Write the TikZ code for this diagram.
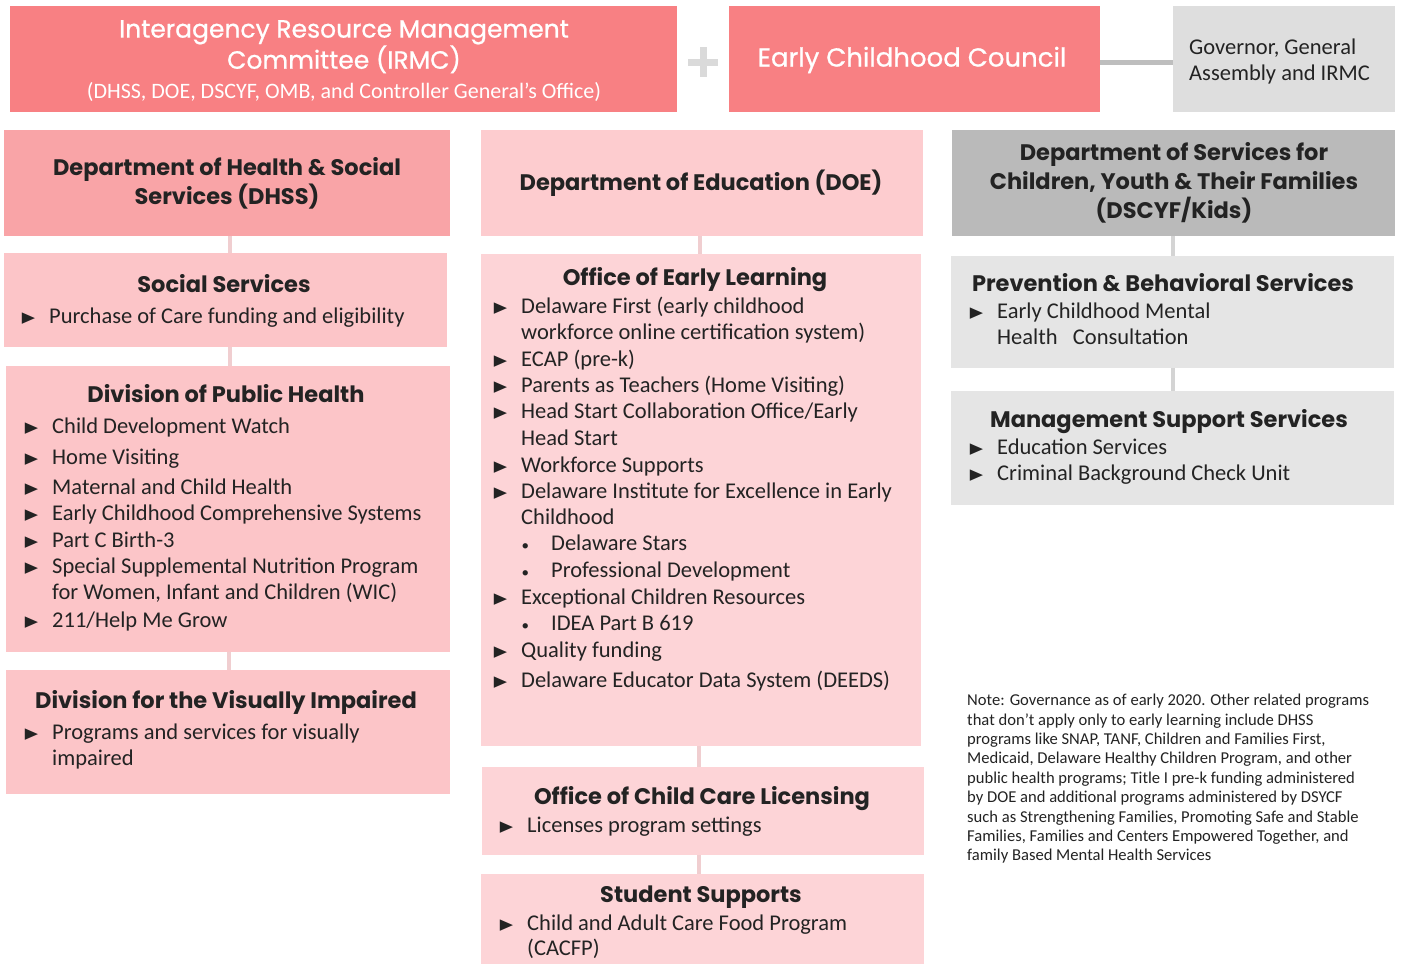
\documentclass[tikz,border=0pt]{standalone}
\usepackage{graphicx}
\usepackage{fontspec}
\setmainfont{Carlito}
\newfontfamily\headfont{Poppins}
\newfontfamily\titlefont[FakeBold=0.8]{Poppins}
\newfontfamily\symfont{DejaVu Sans}
\usetikzlibrary{calc}
\definecolor{coral}{RGB}{248,128,131}
\definecolor{pinkhead}{RGB}{249,164,167}
\definecolor{pinksub}{RGB}{252,197,200}
\definecolor{doehead}{RGB}{253,204,207}
\definecolor{doesub}{RGB}{253,212,215}
\definecolor{grayhead}{RGB}{186,186,186}
\definecolor{graysub}{RGB}{229,229,229}
\definecolor{graytop}{RGB}{222,222,222}
\definecolor{txt}{RGB}{35,35,35}
\definecolor{pinkconn}{RGB}{240,206,208}
\definecolor{grayconn}{RGB}{212,212,212}
\definecolor{linegray}{RGB}{190,190,190}
\definecolor{plusgray}{RGB}{218,218,218}
\newcommand{\tri}{\llap{\raisebox{0.5pt}{\scalebox{1.15}[1]{\symfont\fontsize{15}{15}\selectfont ▶}}\hspace{14pt}}}
\newcommand{\dotb}{\llap{{\fontsize{15}{15}\selectfont\textbullet}\hspace{22pt}}}
\begin{document}
\begin{tikzpicture}[x=1pt,y=-1pt,
  box/.style={draw=none,anchor=north west,inner sep=0pt,outer sep=0pt},
  head/.style={font=\headfont\bfseries\fontsize{22.5}{29}\selectfont,text=txt,align=center,inner sep=0pt},
  subhead/.style={font=\headfont\bfseries\fontsize{22.5}{26}\selectfont,text=txt,anchor=base,inner sep=0pt},
  item/.style={font=\fontsize{22.5}{26}\selectfont,text=txt,anchor=base west,inner sep=0pt},
  conn/.style={draw=pinkconn,line width=4pt},
  gconn/.style={draw=grayconn,line width=4pt}]
\useasboundingbox (0,0) rectangle (1401,964);
\fill[white] (0,0) rectangle (1401,964);
% top row
\node[box,fill=coral,minimum width=667,minimum height=106] (irmc) at (10,6) {};
\node[box,fill=coral,minimum width=371,minimum height=106] (ecc) at (729,6) {};
\node[box,fill=graytop,minimum width=222,minimum height=106] (gov) at (1173,6) {};
\node[align=center,text=white,inner sep=0pt,font=\fontsize{25}{30}\selectfont] (irmct) at (344,61) {\titlefont\fontsize{25}{30}\selectfont Interagency Resource Management\\ \titlefont\fontsize{25}{30}\selectfont Committee (IRMC)\\ \normalfont\fontsize{22}{30}\selectfont (DHSS, DOE, DSCYF, OMB, and Controller General's Office)};
\node[text=white,inner sep=0pt,font=\titlefont\fontsize{26}{30}\selectfont] (ecct) at (912,60) {Early Childhood Council};
\node[align=left,text=txt,inner sep=0pt,anchor=west,font=\fontsize{22.5}{26}\selectfont] (govt) at (1189,61) {Governor, General\\ Assembly and IRMC};
\coordinate (plus) at ($(irmc.east)!0.5!(ecc.west)$);
\draw[plusgray,line width=7pt] ($(plus)+(-15,3)$) -- ($(plus)+(15,3)$);
\draw[plusgray,line width=7pt] ($(plus)+(0,-12)$) -- ($(plus)+(0,18)$);
\draw[linegray,line width=5pt] ($(ecc.east)+(0,3)$) -- ($(gov.west)+(0,3)$);
% headers
\node[box,fill=pinkhead,minimum width=446,minimum height=106] (dhss) at (4,130) {};
\node[box,fill=doehead,minimum width=442,minimum height=106] (doe) at (481,130) {};
\node[box,fill=grayhead,minimum width=443,minimum height=106] (dscyf) at (952,130) {};
\node[head] (dhsst) at (227,183) {Department of Health \& Social\\ Services (DHSS)};
\node[head] (doet) at (701,183) {Department of Education (DOE)};
\node[head] (dscyft) at (1174,183) {Department of Services for\\ Children, Youth \& Their Families\\ (DSCYF/Kids)};
% DHSS column
\node[box,fill=pinksub,minimum width=443,minimum height=94] (soc) at (4,253) {};
\node[box,fill=pinksub,minimum width=444,minimum height=286] (dph) at (6,366) {};
\node[box,fill=pinksub,minimum width=444,minimum height=124] (dvi) at (6,670) {};
\draw[conn] (dhss.south -| 230,0) -- (soc.north -| 230,0);
\draw[conn] (soc.south -| 230,0) -- (dph.north -| 230,0);
\draw[conn] (dph.south -| 229,0) -- (dvi.north -| 229,0);
\node[subhead] (soch) at (224,292) {Social Services};
\node[item] (soc1) at (49,323) {\tri Purchase of Care funding and eligibility};
\node[subhead] (dphh) at (226,402) {Division of Public Health};
\node[item] (dph1) at (52,433) {\tri Child Development Watch};
\node[item] (dph2) at (52,464) {\tri Home Visiting};
\node[item] (dph3) at (52,494) {\tri Maternal and Child Health};
\node[item] (dph4) at (52,520) {\tri Early Childhood Comprehensive Systems};
\node[item] (dph5) at (52,547) {\tri Part C Birth-3};
\node[item] (dph6) at (52,573) {\tri Special Supplemental Nutrition Program};
\node[item] (dph6b) at (52,599) {for Women, Infant and Children (WIC)};
\node[item] (dph7) at (52,627) {\tri 211/Help Me Grow};
\node[subhead] (dvih) at (226,708) {Division for the Visually Impaired};
\node[item] (dvi1) at (52,739) {\tri Programs and services for visually};
\node[item] (dvi1b) at (52,765) {impaired};
% DOE column
\node[box,fill=doesub,minimum width=440,minimum height=492] (oel) at (481,254) {};
\node[box,fill=doesub,minimum width=442,minimum height=88] (occl) at (482,767) {};
\node[box,fill=doesub,minimum width=443,minimum height=90] (stu) at (481,874) {};
\draw[conn] (doe.south -| 700,0) -- (oel.north -| 700,0);
\draw[conn] (oel.south -| 699,0) -- (occl.north -| 699,0);
\draw[conn] (occl.south -| 699,0) -- (stu.north -| 699,0);
\node[subhead] (oelh) at (695,285) {Office of Early Learning};
\node[item] (oel1) at (521,313) {\tri Delaware First (early childhood};
\node[item] (oel1b) at (521,339) {workforce online certification system)};
\node[item] (oel2) at (521,366) {\tri ECAP (pre-k)};
\node[item] (oel3) at (521,392) {\tri Parents as Teachers (Home Visiting)};
\node[item] (oel4) at (521,418) {\tri Head Start Collaboration Office/Early};
\node[item] (oel4b) at (521,445) {Head Start};
\node[item] (oel5) at (521,472) {\tri Workforce Supports};
\node[item] (oel6) at (521,498) {\tri Delaware Institute for Excellence in Early};
\node[item] (oel6b) at (521,524) {Childhood};
\node[item] (oel6c) at (551,550) {\dotb Delaware Stars};
\node[item] (oel6d) at (551,577) {\dotb Professional Development};
\node[item] (oel7) at (521,604) {\tri Exceptional Children Resources};
\node[item] (oel7b) at (551,630) {\dotb IDEA Part B 619};
\node[item] (oel8) at (521,657) {\tri Quality funding};
\node[item] (oel9) at (521,687) {\tri Delaware Educator Data System (DEEDS)};
\node[subhead] (occlh) at (702,804) {Office of Child Care Licensing};
\node[item] (occl1) at (527,832) {\tri Licenses program settings};
\node[subhead] (stuh) at (701,902) {Student Supports};
\node[item] (stu1) at (527,930) {\tri Child and Adult Care Food Program};
\node[item] (stu1b) at (527,955) {(CACFP)};
% DSCYF column
\node[box,fill=graysub,minimum width=443,minimum height=112] (pbs) at (951,256) {};
\node[box,fill=graysub,minimum width=443,minimum height=114] (mss) at (951,391) {};
\draw[gconn] (dscyf.south -| 1173,0) -- (pbs.north -| 1173,0);
\draw[gconn] (pbs.south -| 1173,0) -- (mss.north -| 1173,0);
\node[subhead] (pbsh) at (1163,291) {Prevention \& Behavioral Services};
\node[item] (pbs1) at (997,318) {\tri Early Childhood Mental};
\node[item] (pbs1b) at (997,344) {Health\ \ \ Consultation};
\node[subhead] (mssh) at (1169,427) {Management Support Services};
\node[item] (mss1) at (997,454) {\tri Education Services};
\node[item] (mss2) at (997,480) {\tri Criminal Background Check Unit};
% note
\node[anchor=north west,align=left,inner sep=0pt,text=txt,font=\fontsize{16.6}{19.4}\selectfont] (note) at (967,694) {Note: Governance as of early 2020. Other related programs\\ that don't apply only to early learning include DHSS\\ programs like SNAP, TANF, Children and Families First,\\ Medicaid, Delaware Healthy Children Program, and other\\ public health programs; Title I pre-k funding administered\\ by DOE and additional programs administered by DSYCF\\ such as Strengthening Families, Promoting Safe and Stable\\ Families, Families and Centers Empowered Together, and\\ family Based Mental Health Services};
\end{tikzpicture}
\end{document}
